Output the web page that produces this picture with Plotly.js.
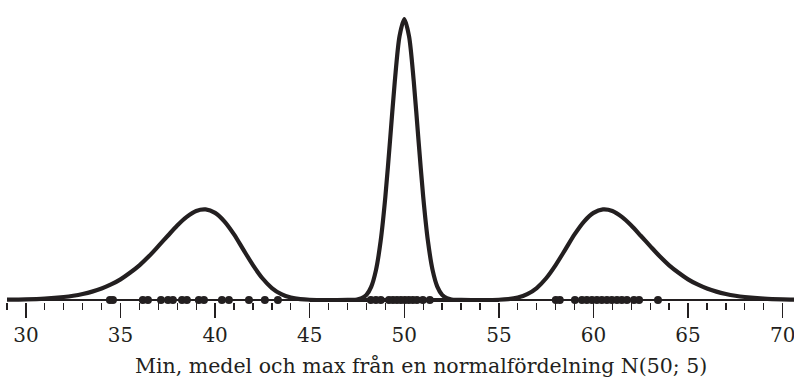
<!DOCTYPE html>
<html>
<head>
<meta charset="utf-8">
<script src="https://cdn.plot.ly/plotly-3.0.1.min.js"></script>
<style>html,body{margin:0;padding:0;background:#fff;}#chart{width:794px;height:379px;}</style>
</head>
<body>
<div id="chart"></div>
<script>
// Density curve of the minimum
const minX = [29, 30, 31, 32, 32.5, 33, 33.5, 34, 34.5, 35, 35.5, 36, 36.5, 37, 37.5, 38, 38.5, 39, 39.5, 40, 40.5, 41, 41.5, 42, 42.5, 43, 43.5, 44, 44.5, 45, 46, 47, 48, 50];
const minY = [0.0006, 0.0013, 0.0029, 0.0061, 0.0086, 0.0121, 0.0168, 0.0230, 0.0312, 0.0415, 0.0547, 0.0697, 0.0877, 0.1082, 0.1290, 0.1496, 0.1669, 0.1788, 0.1819, 0.1749, 0.1575, 0.1317, 0.1006, 0.0701, 0.0437, 0.0241, 0.0117, 0.0049, 0.0017, 0.0005, 0, 0, 0, 0];
// Density curve of the mean
const meanX = [45, 46, 47, 47.25, 47.5, 47.75, 48, 48.25, 48.5, 48.75, 49, 49.25, 49.5, 49.75, 50, 50.25, 50.5, 50.75, 51, 51.25, 51.5, 51.75, 52, 52.25, 52.5, 52.75, 53, 54, 55];
const meanY = [0, 0, 0.0001, 0.0003, 0.0011, 0.0036, 0.0103, 0.0264, 0.0595, 0.1183, 0.2076, 0.3215, 0.4394, 0.5300, 0.5642, 0.5300, 0.4394, 0.3215, 0.2076, 0.1183, 0.0595, 0.0264, 0.0103, 0.0036, 0.0011, 0.0003, 0.0001, 0, 0];
// Density curve of the maximum
const maxX = [50, 52, 54, 55, 55.5, 56, 56.5, 57, 57.5, 58, 58.5, 59, 59.5, 60, 60.5, 61, 61.5, 62, 62.5, 63, 63.5, 64, 64.5, 65, 65.5, 66, 66.5, 67, 67.5, 68, 69, 70, 71];
const maxY = [0, 0, 0, 0.0005, 0.0017, 0.0049, 0.0117, 0.0241, 0.0437, 0.0701, 0.1006, 0.1317, 0.1575, 0.1749, 0.1819, 0.1788, 0.1669, 0.1496, 0.1290, 0.1082, 0.0877, 0.0697, 0.0547, 0.0415, 0.0312, 0.0230, 0.0168, 0.0121, 0.0086, 0.0061, 0.0029, 0.0013, 0.0006];
// Observed values (rug dots)
const minObs = [34.44, 34.60, 36.18, 36.45, 37.14, 37.51, 37.77, 38.25, 38.51, 39.14, 39.41, 40.36, 40.73, 41.79, 42.63, 43.32];
const meanObs = [48.23, 48.50, 48.76, 49.19, 49.40, 49.61, 49.82, 50.03, 50.24, 50.45, 50.67, 50.98, 51.35];
const maxObs = [58.01, 58.22, 59.02, 59.39, 59.65, 59.92, 60.18, 60.44, 60.71, 60.97, 61.24, 61.50, 61.77, 62.14, 62.41, 63.41];
const tickVals = [30, 35, 40, 45, 50, 55, 60, 65, 70];
const tickText = ['30', '35', '40', '45', '50', '55', '60', '65', '70'];
const xTitle = 'Min, medel och max från en normalfördelning N(50; 5)';

const ink = '#231f20';
const lineStyle = {color: ink, width: 4.2, shape: 'spline', smoothing: 0.8};
const allObs = minObs.concat(meanObs, maxObs);

const traces = [
  {x: minX, y: minY, mode: 'lines', line: lineStyle, hoverinfo: 'skip'},
  {x: meanX, y: meanY, mode: 'lines', line: lineStyle, hoverinfo: 'skip'},
  {x: maxX, y: maxY, mode: 'lines', line: lineStyle, hoverinfo: 'skip'},
  {x: allObs, y: allObs.map(() => 0), mode: 'markers', cliponaxis: false,
   marker: {color: ink, size: 8, line: {width: 0}}, hoverinfo: 'skip'}
];

const layout = {
  width: 794, height: 379,
  margin: {l: 7, r: 0, t: 0, b: 77, pad: 0},
  paper_bgcolor: '#ffffff', plot_bgcolor: '#ffffff',
  showlegend: false,
  font: {family: 'DejaVu Serif, serif', color: ink, size: 20},
  xaxis: {
    range: [29, 70.6], showgrid: false, zeroline: false, showline: false,
    tickmode: 'array', tickvals: tickVals, ticktext: tickText,
    ticks: 'outside', ticklen: 15, tickwidth: 1.3, tickcolor: ink,
    ticklabeloverflow: 'allow',
    tickfont: {family: 'DejaVu Serif, serif', size: 20, color: ink},
    minor: {dtick: 1, tick0: 30, ticks: 'outside', ticklen: 7, tickwidth: 1.3, tickcolor: ink, showgrid: false}
  },
  yaxis: {
    range: [-0.004, 0.6024], showgrid: false, showticklabels: false, ticks: '',
    showline: false, zeroline: true, zerolinecolor: ink, zerolinewidth: 1.4
  },
  annotations: [{
    text: xTitle, xref: 'paper', yref: 'paper', x: 0.526, y: -0.212,
    xanchor: 'center', yanchor: 'middle', showarrow: false,
    font: {family: 'DejaVu Serif, serif', size: 20.5, color: ink}
  }]
};

Plotly.newPlot('chart', traces, layout, {staticPlot: true, displayModeBar: false});
</script>
</body>
</html>
